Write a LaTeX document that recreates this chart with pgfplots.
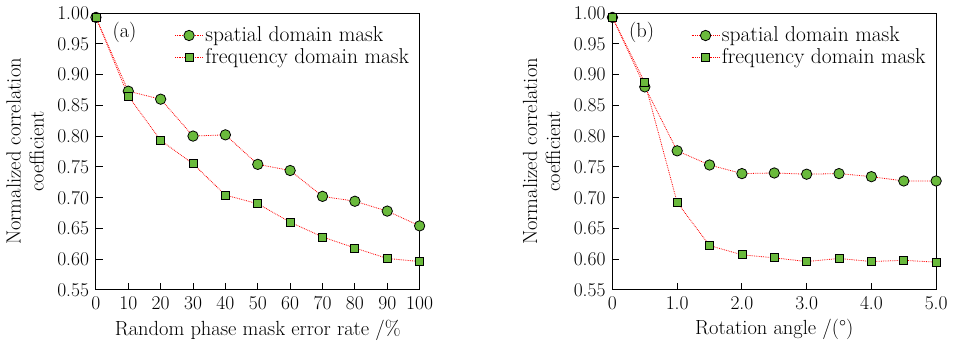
\documentclass[border=0pt]{standalone}
\usepackage{fontspec}
\usepackage{pgfplots}
\pgfplotsset{compat=1.18}
\definecolor{mkgreen}{RGB}{106,186,60}
\newcommand{\bigf}{\fontsize{19.5}{21}\selectfont}
\newcommand{\labf}{\fontsize{20.5}{23}\selectfont}
\newcommand{\legf}{\fontsize{21.5}{23}\selectfont}
\begin{document}
\bigf
\begin{tikzpicture}
\pgfplotsset{
  every axis/.append style={
    scale only axis, width=324pt, height=277pt,
    font=\bigf,
    ymin=0.55, ymax=1.00,
    ytick={0.55,0.60,...,1.00},
    yticklabel style={/pgf/number format/fixed,/pgf/number format/fixed zerofill,/pgf/number format/precision=2},
    /pgf/number format/assume math mode=true,
    tick label style={font=\bigf},
    label style={font=\labf},
    tick align=inside, xtick pos=bottom, ytick pos=left,
    major tick length=7pt,
    line width=0.9pt,
    tick style={line width=0.9pt, black},
    ylabel style={align=center, at={(ticklabel cs:0.5)}, yshift=0pt},
    ylabel={Normalized correlation\\coefficient},
    xlabel style={yshift=4pt},
    legend style={draw=none, fill=none, at={(0.975,0.96)}, anchor=north east, row sep=0pt,
      font=\legf, inner sep=0pt},
    legend cell align=left,
    legend image code/.code={\draw[mark repeat=2,mark phase=2,#1] plot coordinates {(0pt,0pt)(14pt,0pt)(28pt,0pt)};},
    clip=false,
  },
  sp/.style={red, densely dotted, line width=0.8pt, mark=*, mark size=5.2pt,
    mark options={solid, fill=mkgreen, draw=black, line width=0.8pt}},
  fq/.style={red, densely dotted, line width=0.8pt, mark=square*, mark size=4pt,
    mark options={solid, fill=mkgreen, draw=black, line width=0.8pt}},
}
\begin{axis}[name=a, xmin=0, xmax=100, xtick={0,10,...,100},
  xlabel={Random phase mask error rate /\%}]
\addplot[sp] coordinates {(0,0.993)(10,0.873)(20,0.860)(30,0.800)(40,0.802)(50,0.754)(60,0.744)(70,0.702)(80,0.694)(90,0.678)(100,0.654)};
\addplot[fq] coordinates {(0,0.993)(10,0.865)(20,0.793)(30,0.755)(40,0.704)(50,0.690)(60,0.660)(70,0.636)(80,0.618)(90,0.601)(100,0.596)};
\legend{spatial domain mask, frequency domain mask}
\node[anchor=west, font=\labf] at (rel axis cs:0.03,0.93) {(a)};
\end{axis}
\begin{axis}[at={(517pt,0)}, xmin=0, xmax=5, xtick={0,1,2,3,4,5},
  xticklabels={0,1.0,2.0,3.0,4.0,5.0},
  xlabel={Rotation angle /(°)}]
\addplot[sp] coordinates {(0,0.993)(0.5,0.880)(1.0,0.776)(1.5,0.753)(2.0,0.739)(2.5,0.740)(3.0,0.738)(3.5,0.739)(4.0,0.734)(4.5,0.727)(5.0,0.727)};
\addplot[fq] coordinates {(0,0.993)(0.5,0.887)(1.0,0.692)(1.5,0.622)(2.0,0.607)(2.5,0.602)(3.0,0.596)(3.5,0.601)(4.0,0.596)(4.5,0.598)(5.0,0.595)};
\legend{spatial domain mask, frequency domain mask}
\node[anchor=west, font=\labf] at (rel axis cs:0.03,0.93) {(b)};
\end{axis}
\end{tikzpicture}
\end{document}
